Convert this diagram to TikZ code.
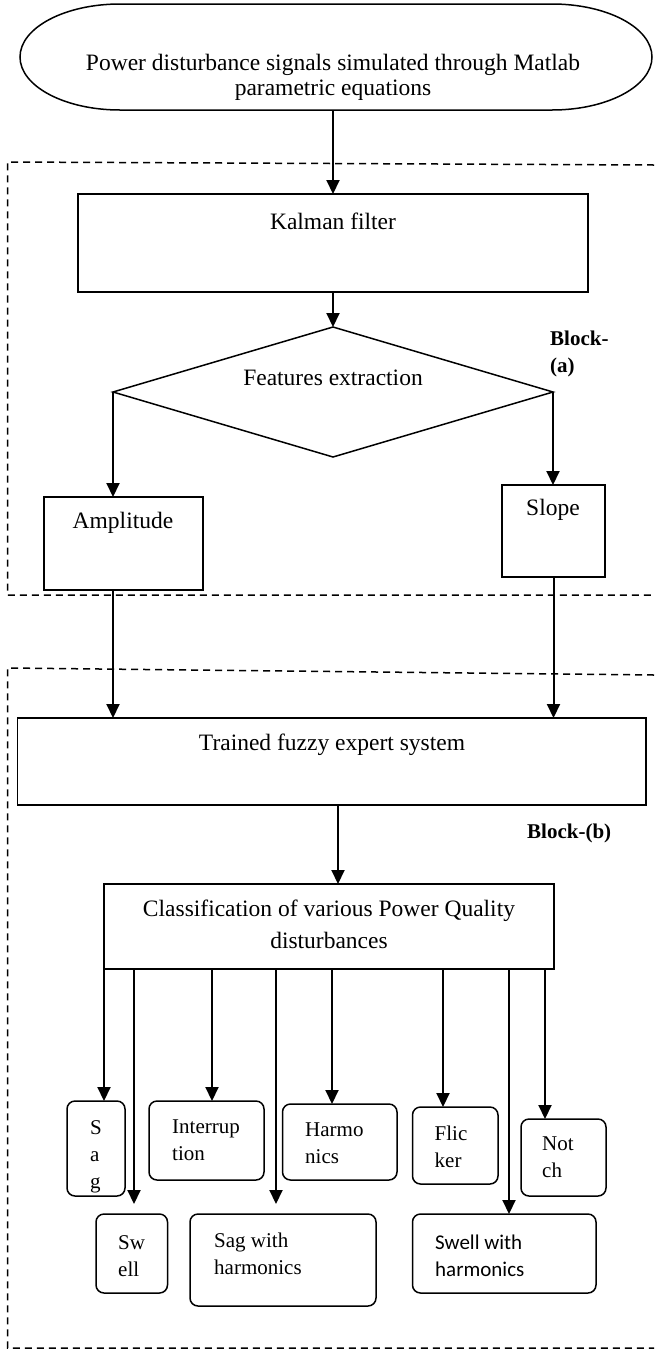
\documentclass[tikz,border=0pt]{standalone}
\usepackage{fontspec}
\setmainfont{Liberation Serif}
\newfontfamily\calibrifont{Carlito}
\usetikzlibrary{arrows.meta,shapes.geometric}
\newcommand\bigtxt{\fontsize{23.5}{25}\selectfont}
\newcommand\smalltxt{\fontsize{21}{27}\selectfont}
\begin{document}
\begin{tikzpicture}[x=1pt,y=-1pt,
  box/.style={draw, line width=1.5pt, inner sep=0pt, outer sep=0pt},
  rbox/.style={box, rounded corners=8pt},
  arr/.style={line width=2pt, -{Triangle[length=14pt,width=13pt]}},
  dashbox/.style={line width=1.5pt, dash pattern=on 7pt off 5pt},
  big/.style={font=\bigtxt, inner sep=0pt},
  blk/.style={font=\fontsize{21}{27}\selectfont\bfseries, inner sep=0pt},
  stext/.style={font=\smalltxt, align=left, anchor=north west, inner sep=0pt}
]
\useasboundingbox (0,0) rectangle (654,1350);

% source terminal
\node[inner sep=0pt, minimum width=632pt, minimum height=106pt] (src) at (336,57) {};
\draw[line width=1.5pt] (120,4) -- (552,4)
  arc[start angle=90, end angle=-90, x radius=100pt, y radius=53pt]
  -- (120,110)
  arc[start angle=270, end angle=90, x radius=100pt, y radius=53pt] -- cycle;
\node[big, align=center] (srct) at (333,77) {Power disturbance signals simulated through Matlab\\parametric equations};

% dashed blocks
\draw[dashbox] (654,165) -- (7.5,162) -- (7.5,595) -- (654,595);
\draw[dashbox] (654,675) -- (7.5,668) -- (7.5,1348) -- (654,1348);

% block (a)
\node[box, minimum width=510pt, minimum height=98pt] (kal) at (333,243) {};
\node[big] (kalt) at (333,221) {Kalman filter};
\draw[arr] (kal.north |- src.south) -- (kal.north);

\node[draw, diamond, line width=1.5pt, inner sep=0pt, outer sep=0pt, minimum width=440pt, minimum height=130pt] (dia) at (333,392) {};
\node[big] (diat) at (333,378) {Features extraction};
\draw[arr] (kal.south) -- (dia.north);

\node[box, minimum width=159pt, minimum height=93pt] (amp) at (123.5,543.5) {};
\node[big] (ampt) at (123,523) {Amplitude};
\node[box, minimum width=103pt, minimum height=92pt] (slp) at (553.5,531) {};
\node[big] (slpt) at (553,510) {Slope};

\node[blk, anchor=west] (blka1) at (550,338) {Block-};
\node[blk, anchor=west] (blka2) at (550,367) {(a)};

\draw[arr] (dia.west) -- (dia.west |- amp.north);
\draw[arr] (dia.east) -- (dia.east |- slp.north);

% block (b)
\node[box, minimum width=628.5pt, minimum height=87pt] (trn) at (331.75,761.5) {};
\node[big] (trnt) at (332,745) {Trained fuzzy expert system};
\draw[arr] (dia.west |- amp.south) -- (dia.west |- trn.north);
\draw[arr] (slp.south) -- (slp.south |- trn.north);

\node[blk, anchor=west] (blkb) at (527,833) {Block-(b)};

\node[box, minimum width=450pt, minimum height=85pt] (cls) at (329,926.5) {};
\node[font=\fontsize{23.5}{32}\selectfont, align=center, inner sep=0pt] (clst) at (329,924) {Classification of various Power Quality\\disturbances};
\coordinate (xc) at (338,0);
\draw[arr] (trn.south -| xc) -- (cls.north -| xc);

% leaves
\node[rbox, minimum width=58pt, minimum height=95pt] (sag) at (96,1148.5) {};
\node[rbox, minimum width=71.5pt, minimum height=79pt] (swl) at (131.75,1253.5) {};
\node[rbox, minimum width=115pt, minimum height=79pt] (int) at (206.5,1140.5) {};
\node[rbox, minimum width=186pt, minimum height=92pt] (sgh) at (283,1260) {};
\node[rbox, minimum width=114.5pt, minimum height=76pt] (hrm) at (339.75,1142) {};
\node[rbox, minimum width=85.5pt, minimum height=77pt] (flk) at (455.25,1145.5) {};
\node[rbox, minimum width=183.5pt, minimum height=79pt] (swh) at (504.25,1253.5) {};
\node[rbox, minimum width=85pt, minimum height=77pt] (nch) at (563.5,1157.5) {};

\node[stext] (sagt) at ([xshift=23pt,yshift=-19pt]sag.north west) {S\\a\\g};
\node[stext] (swlt) at ([xshift=22pt,yshift=-21pt]swl.north west) {Sw\\ell};
\node[stext] (intt) at ([xshift=23pt,yshift=-19pt]int.north west) {Interrup\\tion};
\node[stext] (sght) at ([xshift=24pt,yshift=-19pt]sgh.north west) {Sag with\\harmonics};
\node[stext] (hrmt) at ([xshift=22.5pt,yshift=-19pt]hrm.north west) {Harmo\\nics};
\node[stext] (flkt) at ([xshift=22pt,yshift=-19pt]flk.north west) {Flic\\ker};
\node[stext, font=\calibrifont\smalltxt] (swht) at ([xshift=22.5pt,yshift=-21pt]swh.north west) {Swell with\\harmonics};
\node[stext] (ncht) at ([xshift=21pt,yshift=-18pt]nch.north west) {Not\\ch};

\coordinate (xsag) at (104,0);
\coordinate (xswl) at (134,0);
\coordinate (xint) at (212,0);
\coordinate (xsgh) at (276,0);
\coordinate (xhrm) at (332,0);
\coordinate (xflk) at (443,0);
\coordinate (xswh) at (509,0);
\coordinate (xnch) at (545,0);

\draw[arr] (cls.south -| xsag) -- (sag.north -| xsag);
\draw[arr, shorten >=10pt] (cls.south -| xswl) -- (swl.north -| xswl);
\draw[arr] (cls.south -| xint) -- (int.north -| xint);
\draw[arr, shorten >=10pt] (cls.south -| xsgh) -- (sgh.north -| xsgh);
\draw[arr] (cls.south -| xhrm) -- (hrm.north -| xhrm);
\draw[arr] (cls.south -| xflk) -- (flk.north -| xflk);
\draw[arr] (cls.south -| xswh) -- (swh.north -| xswh);
\draw[arr] (cls.south -| xnch) -- (nch.north -| xnch);
\end{tikzpicture}
\end{document}
